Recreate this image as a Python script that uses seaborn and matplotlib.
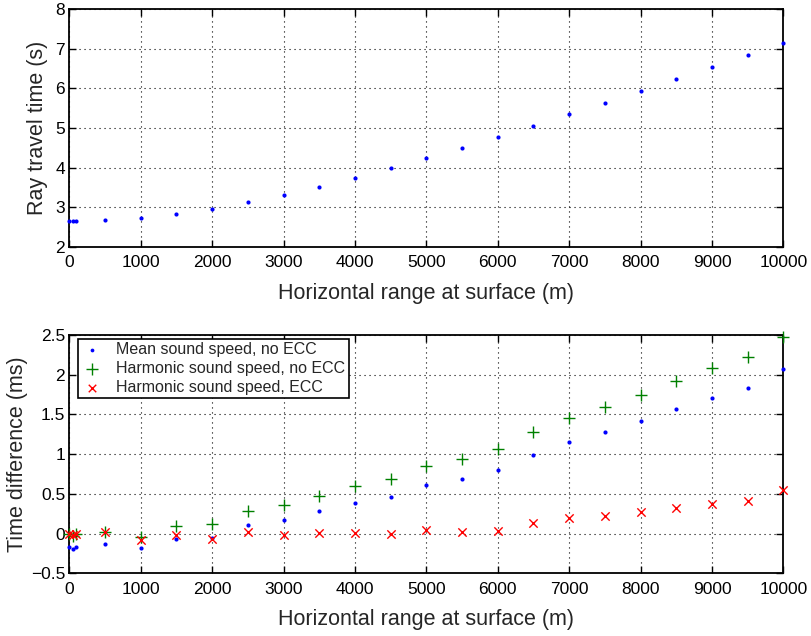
import numpy as np
import pandas as pd
import matplotlib
matplotlib.use("Agg")
import matplotlib.pyplot as plt
import seaborn as sns

# ---- data ----
ranges = [0, 50, 100, 500, 1000, 1500, 2000, 2500, 3000, 3500, 4000, 4500, 5000,
          5500, 6000, 6500, 7000, 7500, 8000, 8500, 9000, 9500, 10000]
travel_time = [2.649, 2.649, 2.649, 2.666, 2.716, 2.818, 2.952, 3.121, 3.315, 3.517,
               3.736, 3.980, 4.233, 4.503, 4.781, 5.059, 5.346, 5.632, 5.927, 6.230,
               6.534, 6.837, 7.149]
mean_no_ecc = [-0.17, -0.19, -0.17, -0.13, -0.185, -0.068, -0.06, 0.108, 0.171, 0.28,
               0.385, 0.465, 0.616, 0.687, 0.796, 0.99, 1.149, 1.275, 1.422, 1.564,
               1.711, 1.833, 2.068]
harm_no_ecc = [0.0, -0.03, -0.01, 0.02, -0.04, 0.09, 0.117, 0.285, 0.356, 0.478,
               0.595, 0.687, 0.855, 0.939, 1.065, 1.275, 1.451, 1.59, 1.749, 1.917,
               2.08, 2.219, 2.479]
harm_ecc = [-0.01, -0.015, -0.005, 0.015, -0.085, -0.015, -0.068, 0.015, -0.02, 0.005,
            0.005, -0.01, 0.045, 0.02, 0.03, 0.128, 0.19, 0.22, 0.268, 0.322,
            0.377, 0.406, 0.553]
series_labels = ["Mean sound speed, no ECC", "Harmonic sound speed, no ECC",
                 "Harmonic sound speed, ECC"]
x_ticks = [0, 1000, 2000, 3000, 4000, 5000, 6000, 7000, 8000, 9000, 10000]
top_yticks = [2, 3, 4, 5, 6, 7, 8]
bot_yticks = [-0.5, 0, 0.5, 1, 1.5, 2, 2.5]
bot_yticklabels = ["\u22120.5", "0", "0.5", "1", "1.5", "2", "2.5"]

sns.set_theme(style="white")
plt.rcParams['font.family'] = ['Liberation Sans', 'DejaVu Sans']

fig = plt.figure(figsize=(8.11, 6.36), dpi=100)
ax1 = fig.add_axes([0.0855, 0.6121, 0.8804, 0.3733])
ax2 = fig.add_axes([0.0855, 0.0986, 0.8804, 0.3747])

blue = (0, 0, 1)
green = (0, 0.5, 0)
red = (1, 0, 0)

df = pd.DataFrame({"x": ranges, "t": travel_time, "m": mean_no_ecc,
                   "h": harm_no_ecc, "e": harm_ecc})

sns.scatterplot(data=df, x="x", y="t", ax=ax1, color=blue, marker="o", s=9,
                linewidth=0, zorder=3, clip_on=False)

sns.scatterplot(data=df, x="x", y="m", ax=ax2, color=blue, marker="o", s=9,
                linewidth=0, zorder=3, clip_on=False, label=series_labels[0])
sns.scatterplot(data=df, x="x", y="h", ax=ax2, color=green, marker="+", s=85,
                linewidth=1.0, zorder=3, clip_on=False, label=series_labels[1])
sns.scatterplot(data=df, x="x", y="e", ax=ax2, color=red, marker="x", s=36,
                linewidth=1.0, zorder=3, clip_on=False, label=series_labels[2])

def style_axes(ax, yticks, ylim, ylabel, yticklabels=None, ypad=5):
    ax.set_xlim(0, 10000)
    ax.set_ylim(*ylim)
    ax.set_xticks(x_ticks)
    ax.set_xticklabels([str(v) for v in x_ticks])
    ax.set_yticks(yticks)
    if yticklabels is not None:
        ax.set_yticklabels(yticklabels)
    ax.grid(True, color="black", linestyle=(0, (1, 3.5)), linewidth=0.8)
    ax.set_axisbelow(True)
    for sp in ax.spines.values():
        sp.set_color("black")
        sp.set_linewidth(1.3)
        sp.set_visible(True)
    ax.tick_params(axis="both", direction="in", length=5, width=1.0, colors="black",
                   labelsize=12.5, top=True, right=True, bottom=True, left=True)
    ax.tick_params(axis="x", pad=6)
    ax.tick_params(axis="y", pad=3)
    ax.set_xlabel("Horizontal range at surface (m)", fontsize=15.5, labelpad=9)
    ax.set_ylabel(ylabel, fontsize=15.5, labelpad=ypad)
    ax.set_facecolor("white")

style_axes(ax1, top_yticks, (2, 8), "Ray travel time (s)", ypad=5)
style_axes(ax2, bot_yticks, (-0.5, 2.5), "Time difference (ms)", bot_yticklabels, ypad=2)

leg = ax2.legend(loc="upper left", fontsize=11.5, frameon=True, fancybox=False,
                 framealpha=1, edgecolor="black", borderpad=0.2, labelspacing=0.24,
                 handletextpad=0.9, handlelength=1.3, borderaxespad=0,
                 bbox_to_anchor=(0.0122, 0.983), markerscale=0.9)
leg.get_frame().set_linewidth(1.2)

fig.savefig("out.png", dpi=100, facecolor="white")
